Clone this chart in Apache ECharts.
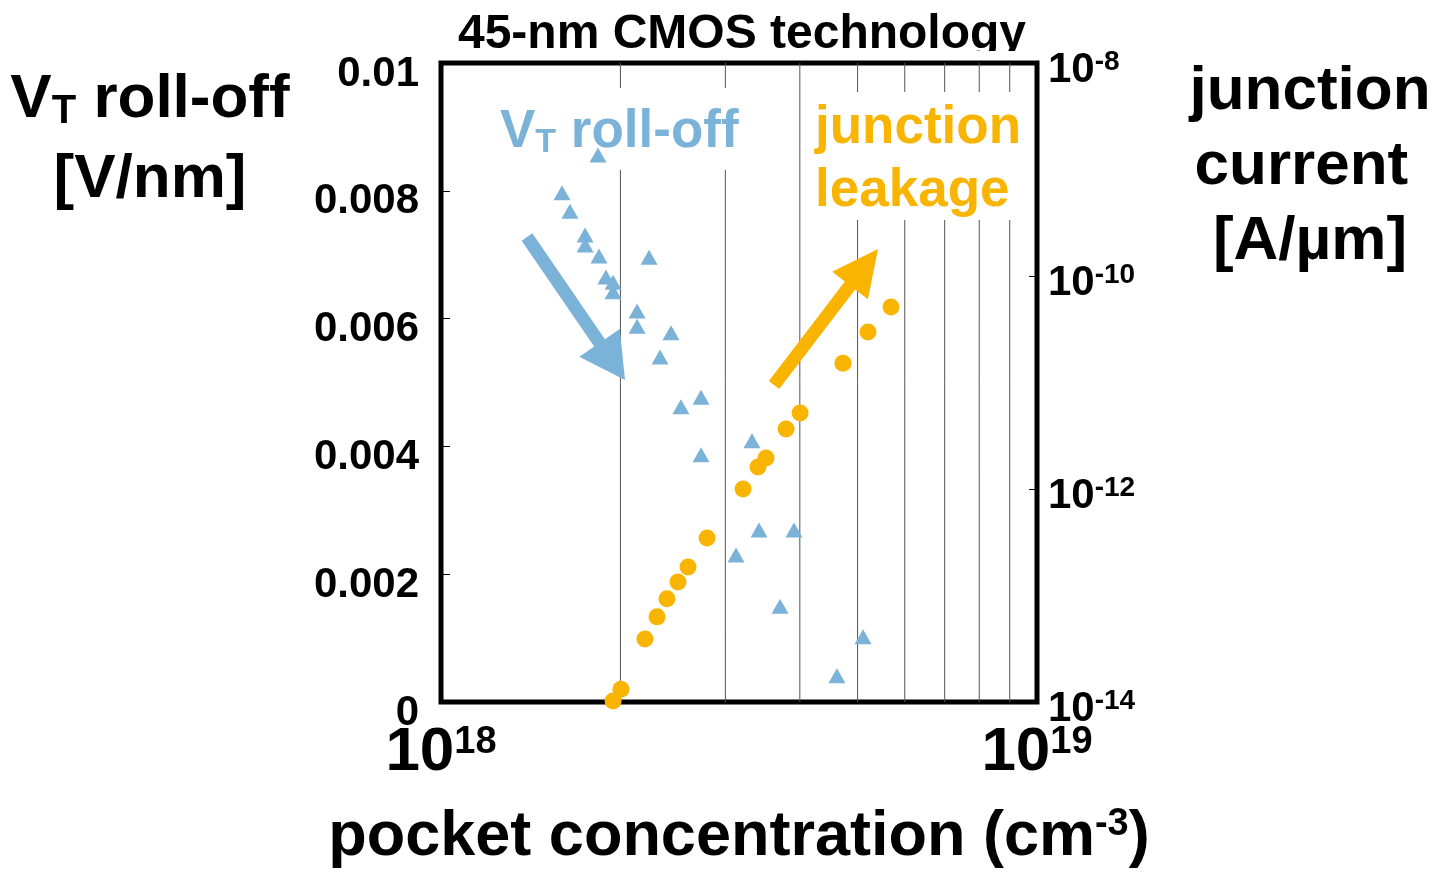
<!DOCTYPE html>
<html lang="en">
<head>
    <meta charset="UTF-8">
    <title>45-nm CMOS technology</title>
    <script src="https://cdnjs.cloudflare.com/ajax/libs/echarts/6.0.0/echarts.min.js"></script>
    <style>
        html, body { margin: 0; padding: 0; background: #fff; }
        #container { width: 1435px; height: 873px; }
    </style>
</head>
<body>
<div id="container"></div>
<script>
    // pocket concentration (cm^-3) vs VT roll-off (V/nm), triangles
    var vtConc = [1.834e18, 1.596e18, 1.646e18, 1.745e18, 1.745e18, 1.841e18, 1.891e18, 1.944e18,
        1.944e18, 2.234e18, 2.133e18, 2.133e18, 2.432e18, 2.331e18, 2.731e18, 2.527e18,
        2.731e18, 3.325e18, 3.126e18, 3.417e18, 3.911e18, 3.706e18, 5.107e18, 4.617e18];
    var vtRolloff = [0.00856, 0.00797, 0.00768, 0.00731, 0.00715, 0.00698, 0.00665, 0.00657,
        0.00642, 0.00696, 0.00612, 0.00588, 0.00578, 0.00540, 0.00477, 0.00462,
        0.00387, 0.00409, 0.00230, 0.00269, 0.00269, 0.00150, 0.00102, 0.00041];

    // pocket concentration vs junction leakage current (A/um), circles
    var leakConc = [1.944e18, 2.004e18, 2.199e18, 2.304e18, 2.394e18, 2.498e18, 2.597e18, 2.795e18,
        3.212e18, 3.403e18, 3.510e18, 3.793e18, 4.004e18, 4.726e18, 5.205e18, 5.689e18];
    var leakCurrent = [1.02e-14, 1.32e-14, 3.9e-14, 6.3e-14, 9.3e-14, 1.34e-13, 1.85e-13, 3.47e-13,
        1.0e-12, 1.61e-12, 1.95e-12, 3.66e-12, 5.18e-12, 1.52e-11, 2.98e-11, 5.12e-11];

    // decade grid lines inside 1e18..1e19
    var gridConc = [2e18, 3e18, 4e18, 5e18, 6e18, 7e18, 8e18, 9e18];

    var blue = '#7ab2d8', orange = '#f9b400';
    var font = '"Liberation Sans", Arial, sans-serif';

    function pairs(xs, ys) {
        var out = [];
        for (var i = 0; i < xs.length; i++) out.push([xs[i], ys[i]]);
        return out;
    }

    // arrow outline: start -> tip, shaft width, head length, head width
    function arrow(x0, y0, x1, y1, sw, hl, hw) {
        var dx = x1 - x0, dy = y1 - y0, len = Math.sqrt(dx * dx + dy * dy);
        var ux = dx / len, uy = dy / len, nx = -uy, ny = ux;
        var bx = x1 - ux * hl, by = y1 - uy * hl;
        return [
            [x0 + nx * sw / 2, y0 + ny * sw / 2],
            [bx + nx * sw / 2, by + ny * sw / 2],
            [bx + nx * hw / 2, by + ny * hw / 2],
            [x1, y1],
            [bx - nx * hw / 2, by - ny * hw / 2],
            [bx - nx * sw / 2, by - ny * sw / 2],
            [x0 - nx * sw / 2, y0 - ny * sw / 2]
        ];
    }

    var myChart = echarts.init(document.getElementById('container'));

    var option = {
        animation: false,
        backgroundColor: '#fff',
        title: {
            text: '45-nm CMOS technology',
            left: 737,
            top: 6,
            textAlign: 'center',
            textStyle: { fontFamily: font, fontWeight: 'bold', fontSize: 48, color: '#000' }
        },
        grid: {
            left: 441, right: 398, top: 63, bottom: 171,
            outerBoundsMode: 'none', containLabel: false,
            show: true, borderColor: '#000', borderWidth: 5, backgroundColor: 'transparent'
        },
        xAxis: {
            type: 'log', logBase: 10, min: 1e18, max: 1e19, interval: 1,
            axisLine: { show: false },
            axisTick: { show: false },
            splitLine: { show: false },
            axisLabel: {
                margin: 22,
                formatter: function (v) {
                    return '{b|10}{s|' + Math.round(Math.log10(v)) + '}';
                },
                rich: {
                    b: { fontFamily: font, fontWeight: 'bold', fontSize: 62, lineHeight: 58, color: '#000' },
                    s: { fontFamily: font, fontWeight: 'bold', fontSize: 38, lineHeight: 32, verticalAlign: 'top', color: '#000' }
                }
            },
            name: 'pocket concentration (cm{s|-3})',
            nameLocation: 'middle',
            nameGap: 104,
            nameTextStyle: {
                fontFamily: font, fontWeight: 'bold', fontSize: 63, color: '#000',
                rich: {
                    s: { fontFamily: font, fontWeight: 'bold', fontSize: 38, lineHeight: 40, verticalAlign: 'top', color: '#000' }
                }
            }
        },
        yAxis: [{
            type: 'value', min: 0, max: 0.01, interval: 0.002, position: 'left',
            axisLine: { show: false },
            axisTick: { show: true, inside: true, length: 9, lineStyle: { color: '#000', width: 1 } },
            splitLine: { show: false },
            axisLabel: {
                margin: 22,
                verticalAlign: 'top',
                lineHeight: 22,
                fontFamily: font, fontWeight: 'bold', fontSize: 42, color: '#000',
                formatter: function (v) { return String(parseFloat(v.toFixed(4))); }
            }
        }, {
            type: 'log', logBase: 10, min: 1e-14, max: 1e-8, interval: 2, position: 'right',
            axisLine: { show: false },
            axisTick: { show: true, inside: true, length: 8, lineStyle: { color: '#000', width: 1 } },
            splitLine: { show: false },
            axisLabel: {
                margin: 11,
                align: 'left',
                // empty first line pushes the label a little below its tick
                formatter: function (v) {
                    return '{g| }\n{b|10}{s|' + Math.round(Math.log10(v)) + '}';
                },
                rich: {
                    g: { fontSize: 10, lineHeight: 14 },
                    b: { fontFamily: font, fontWeight: 'bold', fontSize: 42, lineHeight: 44, color: '#000' },
                    s: { fontFamily: font, fontWeight: 'bold', fontSize: 28, lineHeight: 22, verticalAlign: 'top', color: '#000' }
                }
            }
        }],
        series: [{
            type: 'custom',
            name: 'grid',
            z: 1,
            silent: true,
            xAxisIndex: 0, yAxisIndex: 0,
            data: gridConc.map(function (c) { return [c, 0]; }),
            encode: { x: 0, y: 1 },
            renderItem: function (params, api) {
                var c = api.value(0);
                var p0 = api.coord([c, 0]);
                var p1 = api.coord([c, 0.01]);
                return {
                    type: 'line',
                    shape: { x1: p0[0], y1: p0[1], x2: p1[0], y2: p1[1] },
                    style: { stroke: '#555', lineWidth: 1 }
                };
            }
        }, {
            type: 'scatter',
            name: 'VT roll-off',
            z: 3,
            yAxisIndex: 0,
            symbol: 'triangle',
            symbolSize: [17, 15],
            itemStyle: { color: blue, opacity: 1 },
            data: pairs(vtConc, vtRolloff)
        }, {
            type: 'scatter',
            name: 'junction leakage',
            z: 3,
            yAxisIndex: 1,
            symbol: 'circle',
            symbolSize: 17,
            itemStyle: { color: orange, opacity: 1 },
            data: pairs(leakConc, leakCurrent)
        }],
        graphic: [
            // white boxes behind the in-plot labels
            { type: 'rect', z: 2, silent: true, shape: { x: 494, y: 88, width: 252, height: 82 }, style: { fill: '#fff' } },
            { type: 'rect', z: 2, silent: true, shape: { x: 808, y: 92, width: 224, height: 128 }, style: { fill: '#fff' } },
            {
                type: 'text', z: 2, x: 500, y: 132,
                style: {
                    text: '{a|V}{t|T}{a| roll-off}',
                    textVerticalAlign: 'middle',
                    rich: {
                        a: { fontFamily: font, fontWeight: 'bold', fontSize: 53, lineHeight: 56, fill: blue },
                        t: { fontFamily: font, fontWeight: 'bold', fontSize: 34, lineHeight: 20, verticalAlign: 'bottom', fill: blue }
                    }
                }
            },
            {
                type: 'text', z: 2, x: 815, y: 160,
                style: {
                    text: 'junction\nleakage',
                    fontFamily: font, fontWeight: 'bold', fontSize: 53, lineHeight: 63,
                    fill: orange, textVerticalAlign: 'middle'
                }
            },
            // arrows
            { type: 'polygon', z: 4, silent: true, shape: { points: arrow(527, 237, 625, 380, 13, 45, 49) }, style: { fill: blue } },
            { type: 'polygon', z: 4, silent: true, shape: { points: arrow(774, 385, 878, 249, 13, 46, 45) }, style: { fill: orange } },
            // left axis title
            {
                type: 'text', z: 5, x: 150, y: 100,
                style: {
                    text: '{a|V}{t|T}{a| roll-off}',
                    textAlign: 'center', textVerticalAlign: 'middle',
                    rich: {
                        a: { fontFamily: font, fontWeight: 'bold', fontSize: 62, lineHeight: 64, fill: '#000' },
                        t: { fontFamily: font, fontWeight: 'bold', fontSize: 40, lineHeight: 18, verticalAlign: 'bottom', fill: '#000' }
                    }
                }
            },
            {
                type: 'text', z: 5, x: 150, y: 180,
                style: {
                    text: '[V/nm]', textAlign: 'center', textVerticalAlign: 'middle',
                    fontFamily: font, fontWeight: 'bold', fontSize: 62, fill: '#000'
                }
            },
            // right axis title
            {
                type: 'text', z: 5, x: 1310, y: 167,
                style: {
                    text: 'junction\ncurrent \n[A/\u00b5m]', textAlign: 'center', textVerticalAlign: 'middle',
                    fontFamily: font, fontWeight: 'bold', fontSize: 62, lineHeight: 75, fill: '#000'
                }
            },
            // the title is clipped at the bottom in the original
            { type: 'rect', z: 10, silent: true, shape: { x: 430, y: 51, width: 620, height: 9 }, style: { fill: '#fff' } }
        ]
    };

    myChart.setOption(option);
</script>
</body>
</html>
